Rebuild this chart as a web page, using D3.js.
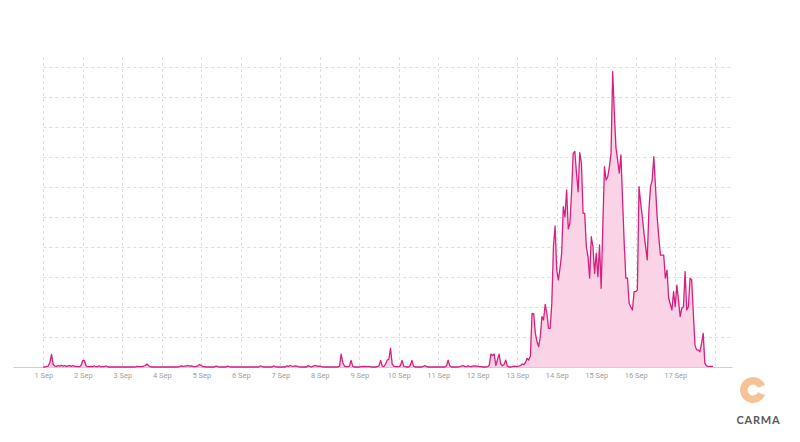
<!DOCTYPE html>
<html>
<head>
<meta charset="utf-8">
<script src="https://cdn.jsdelivr.net/npm/d3@7"></script>
<style>
  body { margin: 0; background: #fff; }
  svg { display: block; font-family: Roboto, "Noto Sans", sans-serif; }
</style>
</head>
<body>
<div class="chart-wrap"></div>
<script>
const width = 800;
const height = 442;

// hourly mention counts, one row per day (1 Sep .. 17 Sep)
const hourlyMentions = [
  0,0,0.2,0.3,1.5,4.2,0.8,0.3,0.2,0.5,0.3,0.6,0.3,0.5,0.2,0.4,0.5,0.2,0.5,0.2,0.2,0.1,0.1,0.5,
  2.2,2.1,0.4,0.1,0.1,0.2,0.1,0.4,0.1,0.1,0.4,0.1,0.1,0.1,0.4,0.1,0,0,0,0,0,0,0,0,
  0,0,0,0,0,0,0,0,0,0.2,0.1,0.1,0.1,0.3,0.5,1,0.4,0.1,0,0,0,0,0,0,
  0,0,0,0,0,0,0,0,0,0,0,0.2,0.4,0.2,0.3,0.4,0.5,0.3,0.4,0.2,0.1,0.2,0.4,0.8,
  0.5,0.1,0.1,0,0,0,0,0,0,0.3,0.1,0,0,0,0,0,0.3,0.1,0,0,0,0,0,0,
  0,0,0,0,0,0,0,0,0,0,0,0,0.4,0.1,0,0,0,0,0,0,0.4,0.1,0,0,
  0,0,0,0,0.4,0.2,0.5,0.3,0.2,0.4,0.3,0.1,0,0,0,0,0,0.5,0.2,0,0.3,0.5,0.4,0.2,
  0.3,0.1,0,0,0,0,0,0,0,0,0,0,0.3,4.3,1.5,0.3,0.1,0.1,0.3,2.2,0.3,0,0,0,
  0,0.1,0.2,0.1,0.2,0.1,0.2,0,0,0,0,0.1,0.4,2.2,0.3,0.2,1,2.3,2.6,6.2,1,0.3,0.1,0.1,
  0.1,0.4,2.2,0.3,0.1,0,0,0.5,2.2,0.3,0,0,0,0,0,0.2,0.5,0.1,0,0,0,0,0,0,
  0,0,0,0,0,0.4,2.3,0.4,0,0,0,0,0,0.1,0.3,0.5,0.2,0.1,0.4,0.2,0.1,0.3,0.4,0.3,
  0.2,0.1,0.1,0,0,0,0.1,0.6,4.3,3.8,4.3,0.5,2.5,4.3,1,0.4,0.8,2.3,0.3,0,0,0.1,0.3,0.2,
  0.2,0.3,0.5,1,0.8,1.5,2.9,2.3,3.7,17.9,17.7,11.2,8.5,6.8,10,16.8,15.7,20.9,17.9,12.9,12.9,21.2,40.1,47,
  32.3,29,33,37.9,53.4,50,59,46,47.9,57.9,71.2,71.8,64.6,58.4,71.4,67.9,51.2,51.2,40,36.8,29.6,43.4,40.1,31.2,
  37.9,30.1,40.7,26.2,46.8,66.8,62.3,63.4,66.8,71.2,98.4,84.6,73,69,64.6,70.7,55.7,41.2,29.6,29.6,21.2,20,19,25.1,
  25.1,25.7,60.1,54.6,50.1,44.6,40.1,35.7,52.3,60.1,62.3,70.1,60.1,50.1,43.4,37.3,37.3,37.3,29.6,32.3,23,21,19,25.1,
  20.1,27.3,22.3,16.8,19.6,20.1,31.8,19,20.1,29.6,29,17.9,7.3,5.7,5.7,5.1,7.9,11.2,1.2,0.4,0.2,0.2,0.2,0.2
];

const dayLabels = ["1 Sep","2 Sep","3 Sep","4 Sep","5 Sep","6 Sep","7 Sep","8 Sep","9 Sep",
  "10 Sep","11 Sep","12 Sep","13 Sep","14 Sep","15 Sep","16 Sep","17 Sep"];
const gridValues = [10,20,30,40,50,60,70,80,90,100];

const startDate = new Date(Date.UTC(2017, 8, 1));
const HOUR = 3600 * 1000;

let svg = d3.select(".chart-wrap")
  .append("svg")
  .attr("width", width)
  .attr("height", height)
  .style("background-color", "white");

let scaleX = d3.scaleUtc()
  .domain([new Date(+startDate - 18.4 * HOUR), new Date(+startDate + 418.5 * HOUR)])
  .range([13, 732]);

let scaleY = d3.scaleLinear().domain([0, 103.3]).range([367, 57]);

let data = hourlyMentions.map((v, i) => ({ date: new Date(+startDate + i * HOUR), value: v }));
let dayDates = d3.range(dayLabels.length + 1).map(i => new Date(+startDate + i * 24 * HOUR));

// grid
let grid = svg.append("g")
  .attr("stroke", "#dedede")
  .attr("stroke-dasharray", "3,3")
  .attr("stroke-width", 1);

grid.selectAll(".hgrid")
  .data(gridValues)
  .enter()
  .append("line")
  .attr("x1", scaleX(startDate))
  .attr("x2", 732)
  .attr("y1", d => Math.round(scaleY(d)) + 0.5)
  .attr("y2", d => Math.round(scaleY(d)) + 0.5);

grid.selectAll(".vgrid")
  .data(dayDates)
  .enter()
  .append("line")
  .attr("x1", d => Math.round(scaleX(d)) + 0.5)
  .attr("x2", d => Math.round(scaleX(d)) + 0.5)
  .attr("y1", scaleY.range()[1])
  .attr("y2", scaleY(0));

// area + line
svg.append("path")
  .datum(data)
  .attr("fill", "#fbd3e6")
  .attr("d", d3.area()
    .x(d => scaleX(d.date))
    .y0(scaleY(0))
    .y1(d => scaleY(d.value)));

// x axis
let xAxis = d3.axisBottom(scaleX)
  .tickValues(dayDates.slice(0, dayLabels.length))
  .tickFormat((d, i) => dayLabels[i])
  .tickSize(0)
  .tickPadding(6);

let axisG = svg.append("g")
  .attr("id", "x-axis")
  .attr("transform", "translate(0," + scaleY(0) + ")")
  .call(xAxis);
axisG.select(".domain").attr("stroke", "#cfcfcf");
axisG.selectAll("text")
  .attr("fill", "#a0a0a0")
  .style("font-size", "7.5px")
  .style("font-family", "Roboto, sans-serif");

svg.append("path")
  .datum(data)
  .attr("fill", "none")
  .attr("stroke", "#d81f7f")
  .attr("stroke-width", 1.3)
  .attr("stroke-linejoin", "round")
  .attr("d", d3.line()
    .x(d => scaleX(d.date))
    .y(d => scaleY(d.value)));

// CARMA logo
let defs = svg.append("defs");
let pat = defs.append("pattern")
  .attr("id", "dots")
  .attr("width", 2)
  .attr("height", 2)
  .attr("patternUnits", "userSpaceOnUse");
pat.append("rect").attr("width", 2).attr("height", 2).attr("fill", "#fcd9b8");
pat.append("circle").attr("cx", 1).attr("cy", 1).attr("r", 0.75).attr("fill", "#f2a35f");

svg.append("path")
  .attr("transform", "translate(753,390)")
  .attr("fill", "url(#dots)")
  .attr("d", d3.arc()
    .innerRadius(5.5)
    .outerRadius(13)
    .startAngle(Math.PI / 2 + 0.4)
    .endAngle(Math.PI / 2 - 0.4 + 2 * Math.PI)());

svg.append("text")
  .attr("x", 758.5)
  .attr("y", 424)
  .attr("text-anchor", "middle")
  .attr("fill", "#595959")
  .style("font-size", "11px")
  .style("font-weight", "bold")
  .style("letter-spacing", "0.8px")
  .style("font-family", "Lato, Roboto, sans-serif")
  .text("CARMA");
</script>
</body>
</html>
